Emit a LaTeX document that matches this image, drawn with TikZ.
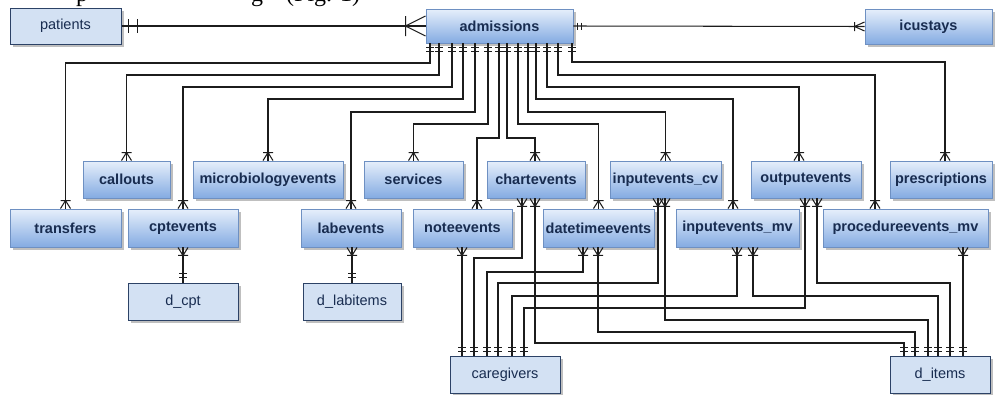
\documentclass[tikz,border=0pt]{standalone}
\usepackage{fontspec}
\setmainfont{Liberation Sans}
\newfontfamily\serifcap{Liberation Serif}
\usetikzlibrary{shadows}

\definecolor{gradtop}{RGB}{230,239,251}
\definecolor{gradbot}{RGB}{132,171,226}
\definecolor{gradline}{RGB}{110,144,194}
\definecolor{flatfill}{RGB}{211,225,243}
\definecolor{flatline}{RGB}{44,66,102}
\definecolor{enttext}{RGB}{24,44,80}
\definecolor{wire}{RGB}{28,28,28}

\tikzset{
  table/.style={rectangle, inner sep=0pt, text=enttext,
    drop shadow={shadow xshift=2.5pt, shadow yshift=-2.5pt, fill=black, opacity=0.25}},
  tabgrad/.style={table, draw=gradline, line width=0.9pt, top color=gradtop, bottom color=gradbot,
    font=\fontsize{14.5}{17}\selectfont\bfseries},
  tabflat/.style={table, draw=flatline, line width=1pt, fill=flatfill,
    font=\fontsize{14.5}{17}\selectfont},
  conn/.style={draw=wire, line width=1.05pt},
  captext/.style={anchor=base west, inner sep=0pt, font=\serifcap\fontsize{24}{28}\selectfont},
  % crow's foot with bar: #1 = signed depth along the line, #2 = half width
  pics/manyv/.style n args={2}{code={\draw[conn] (-#2,0) -- (0,#1) -- (#2,0) (-#2,#1) -- (#2,#1);}},
  pics/manyh/.style n args={2}{code={\draw[conn] (0,-#2) -- (#1,0) -- (0,#2) (#1,-#2) -- (#1,#2);}},
  % double bar (exactly one): #1, #2 = signed offsets, #3 = half width
  pics/onev/.style n args={3}{code={\draw[conn] (-#3,#1) -- (#3,#1) (-#3,#2) -- (#3,#2);}},
  pics/oneh/.style n args={3}{code={\draw[conn] (#1,-#3) -- (#1,#3) (#2,-#3) -- (#2,#3);}},
}

\begin{document}
\begin{tikzpicture}[x=1pt, y=-1pt]
\useasboundingbox (0,0) rectangle (995,394);

% text line running above the diagram
\node[captext] (capA) at (76,1.5) {p};
\node[captext] (capB) at (251,1.5) {g};
\node[captext] (capC) at (286,1.5) {(Fig. 1)};

% top row
\node[tabflat, minimum width=111, minimum height=36] (patients) at (65.5,26) {patients};
\node[tabgrad, minimum width=147, minimum height=34] (admissions) at (499.5,26) {admissions};
\node[tabgrad, minimum width=127, minimum height=35] (icustays) at (928.5,26.5) {icustays};

% first row of event tables
\node[tabgrad, minimum width=87,  minimum height=37] (callouts) at (126.5,179.5) {callouts};
\node[tabgrad, minimum width=150, minimum height=37] (microbio) at (268,179.5) {microbiologyevents};
\node[tabgrad, minimum width=99,  minimum height=37] (services) at (413.5,179.5) {services};
\node[tabgrad, minimum width=98,  minimum height=37] (chartevents) at (536,179.5) {chartevents};
\node[tabgrad, minimum width=111, minimum height=37] (ievcv) at (665.5,179.5) {inputevents\_cv};
\node[tabgrad, minimum width=110, minimum height=37] (outputevents) at (806,179.5) {outputevents};
\node[tabgrad, minimum width=102, minimum height=37] (prescriptions) at (941,179.5) {prescriptions};

% second row of event tables
\node[tabgrad, minimum width=111, minimum height=38] (transfers) at (65.5,228) {transfers};
\node[tabgrad, minimum width=110, minimum height=38] (cptevents) at (183,228) {cptevents};
\node[tabgrad, minimum width=100, minimum height=38] (labevents) at (351,228) {labevents};
\node[tabgrad, minimum width=99,  minimum height=38] (noteevents) at (462.5,228) {noteevents};
\node[tabgrad, minimum width=111, minimum height=38] (datetimeevents) at (598.5,228) {datetimeevents};
\node[tabgrad, minimum width=123, minimum height=38] (ievmv) at (737.5,228) {inputevents\_mv};
\node[tabgrad, minimum width=165, minimum height=38] (procmv) at (905.5,228) {procedureevents\_mv};

% dictionary tables
\node[tabflat, minimum width=110, minimum height=37] (dcpt) at (183,301.5) {d\_cpt};
\node[tabflat, minimum width=98,  minimum height=37] (dlabitems) at (352,301.5) {d\_labitems};
\node[tabflat, minimum width=110, minimum height=37] (caregivers) at (505,374.5) {caregivers};
\node[tabflat, minimum width=100, minimum height=37] (ditems) at (940,374.5) {d\_items};

% patients -- admissions -- icustays
\draw[conn] (patients.east) -- (admissions.west);
\path (patients.east) pic {oneh={7}{16}{7}};
\path (admissions.west) pic {manyh={-20}{10}};
\draw[conn] (admissions.east) -- (icustays.west);
\path (admissions.east) pic {oneh={4}{8}{3.5}};
\path (icustays.west) pic {manyh={-10}{4.5}};

% admissions to the event tables
\foreach \sx/\hy/\tgt/\tx in {430/63/transfers/65.5, 439/75/callouts/126.5, 452/87/cptevents/183,
    463/99/microbio/268, 475/112/labevents/351, 488/124/services/413.5, 499/138/noteevents/477,
    507/138/chartevents/535, 518/124/datetimeevents/598.5, 528/112/ievcv/665.5, 536/99/ievmv/733,
    547/87/outputevents/799, 558/75/procmv/875, 572/62/prescriptions/945} {
  \draw[conn] (admissions.south -| \sx,0) -- (\sx,\hy) -| (\tgt.north -| \tx,0);
  \path (admissions.south -| \sx,0) pic {onev={4}{8}{4}};
  \path (\tgt.north -| \tx,0) pic {manyv={-8}{5}};
}

% dictionary links
\draw[conn] (cptevents.south) -- (dcpt.north);
\path (cptevents.south) pic {manyv={8}{5}};
\path (dcpt.north) pic {onev={-5}{-9}{4}};
\draw[conn] (labevents.south -| 352,0) -- (dlabitems.north);
\path (labevents.south -| 352,0) pic {manyv={8}{5}};
\path (dlabitems.north) pic {onev={-5}{-9}{4}};

% caregivers
\draw[conn] (noteevents.south -| 462,0) -- (caregivers.north -| 462,0);
\path (noteevents.south -| 462,0) pic {manyv={8}{5}};
\path (caregivers.north -| 462,0) pic {onev={-4}{-8}{4}};
\foreach \src/\sx/\hy/\dx in {chartevents/522/258/474, datetimeevents/583/272/487,
    ievcv/658/283/498, ievmv/737/296/512, outputevents/805/308/524} {
  \draw[conn] (\src.south -| \sx,0) -- (\sx,\hy) -| (caregivers.north -| \dx,0);
  \path (\src.south -| \sx,0) pic {manyv={8}{5}};
  \path (caregivers.north -| \dx,0) pic {onev={-4}{-8}{4}};
}

% d_items
\draw[conn] (procmv.south -| 963,0) -- (ditems.north -| 963,0);
\path (procmv.south -| 963,0) pic {manyv={8}{5}};
\path (ditems.north -| 963,0) pic {onev={-4}{-8}{4}};
\foreach \src/\sx/\hy/\dx in {chartevents/535/343/904, datetimeevents/598/332/915,
    ievcv/665/320/928, ievmv/753/296/938, outputevents/817/283/950} {
  \draw[conn] (\src.south -| \sx,0) -- (\sx,\hy) -| (ditems.north -| \dx,0);
  \path (\src.south -| \sx,0) pic {manyv={8}{5}};
  \path (ditems.north -| \dx,0) pic {onev={-4}{-8}{4}};
}
\end{tikzpicture}
\end{document}
